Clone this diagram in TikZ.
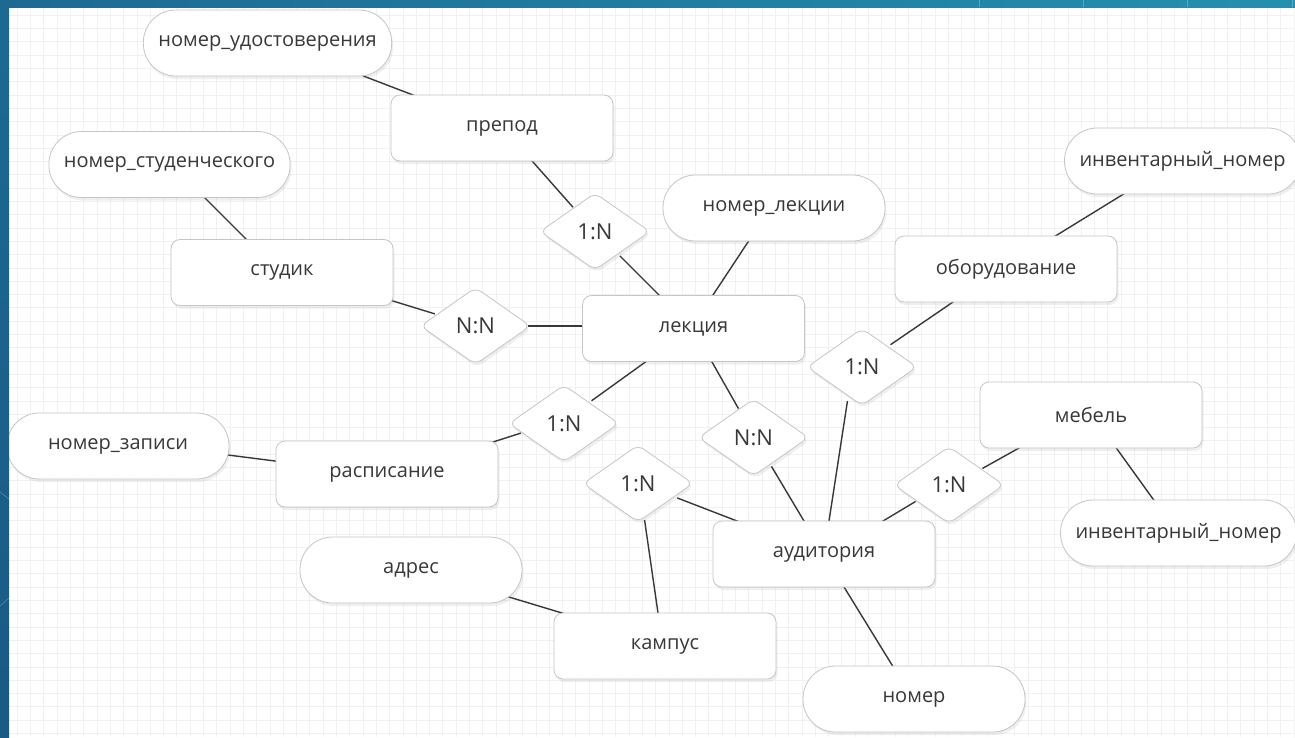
\documentclass[tikz,border=0pt]{standalone}
\usepackage{fontspec}
\setmainfont{Open Sans}
\usetikzlibrary{shapes.geometric}
\usetikzlibrary{shadows}

\definecolor{framedark}{HTML}{1A5A85}
\definecolor{frametop}{HTML}{1C6A92}
\definecolor{framelight}{HTML}{2390AE}
\definecolor{gridline}{HTML}{F1F1F1}
\definecolor{boxline}{HTML}{C6C6C6}
\definecolor{ink}{HTML}{383838}

\pgfdeclarelayer{grid}
\pgfdeclarelayer{edges}
\pgfsetlayers{grid,edges,main}

\tikzset{
  box/.style={draw=boxline, fill=white, line width=0.8pt, text=ink,
    font=\fontsize{20}{24}\selectfont,
    drop shadow={opacity=0.12, shadow xshift=1.5pt, shadow yshift=-3pt}},
  entity/.style={box, rectangle, rounded corners=9pt,
    minimum width=222pt, minimum height=66pt},
  attrib/.style={box, rectangle, rounded corners=32.5pt,
    minimum width=222pt, minimum height=66pt, inner xsep=15pt},
  relation/.style={box, diamond, rounded corners=7pt,
    minimum width=110pt, minimum height=77pt, inner sep=0pt,
    font=\fontsize{22}{26}\selectfont},
  link/.style={draw=ink, line width=1.4pt, shorten <=-3pt, shorten >=-3pt},
}

\begin{document}
\begin{tikzpicture}[x=1pt,y=-1pt]
    \useasboundingbox (0,0) rectangle (1295,737);

    % paper and grid
    \begin{pgfonlayer}{grid}
      \fill[white] (0,0) rectangle (1295,737);
      \foreach \gx in {4,17.3,...,1295}
        \draw[gridline, line width=1pt] (\gx,0) -- (\gx,737);
      \foreach \gy in {2,15.3,...,737}
        \draw[gridline, line width=1pt] (0,\gy) -- (1295,\gy);
    \end{pgfonlayer}

    % entities
    \node[entity] (prepod) at (502,128) {препод};
    \node[entity] (studik) at (282,272.5) {студик};
    \node[entity] (lekciya) at (693.5,328.5) {лекция};
    \node[entity] (oborud) at (1006,269) {оборудование};
    \node[entity] (mebel) at (1091,415) {мебель};
    \node[entity] (raspis) at (387,474) {расписание};
    \node[entity] (auditor) at (824,554) {аудитория};
    \node[entity] (kampus) at (665,646) {кампус};

    % attributes
    \node[attrib] (udost) at (267.5,43) {номер\_удостоверения};
    \node[attrib] (nstud) at (169.5,164.5) {номер\_студенческого};
    \node[attrib] (nlek) at (774,208) {номер\_лекции};
    \node[attrib] (invtop) at (1182.5,161) {инвентарный\_номер};
    \node[attrib] (nzap) at (118,446) {номер\_записи};
    \node[attrib] (invbot) at (1178.5,533) {инвентарный\_номер};
    \node[attrib] (adres) at (411,570) {адрес};
    \node[attrib] (nomer) at (914,699) {номер};

    % relationships
    \node[relation] (prepLek) at (595,231.5) {1:N};
    \node[relation] (studLek) at (475.5,326) {N:N};
    \node[relation] (oborAud) at (862,367) {1:N};
    \node[relation] (lekRasp) at (564,423.5) {1:N};
    \node[relation] (lekAud) at (753.5,437.5) {N:N};
    \node[relation] (kampAud) at (638,483.5) {1:N};
    \node[relation] (mebAud) at (949,485) {1:N};

    \begin{pgfonlayer}{edges}
      \draw[link] ([shift={(98.5,34)}]udost.center) -- ([shift={(-89,-33)}]prepod.center);
      \draw[link] ([shift={(31,34)}]prepod.center) -- ([shift={(-24,-26.5)}]prepLek.center);
      \draw[link] ([shift={(27,26.5)}]prepLek.center) -- ([shift={(-34.5,-33.5)}]lekciya.center);
      \draw[link] ([shift={(35.5,33.5)}]nstud.center) -- ([shift={(-35,-32.5)}]studik.center);
      \draw[link] ([shift={(111,28.5)}]studik.center) -- ([shift={(-43.5,-13)}]studLek.center);
      \draw[link] ([shift={(55.5,0)}]studLek.center) -- ([shift={(-111.5,-2.5)}]lekciya.center);
      \draw[link] ([shift={(-26,34)}]nlek.center) -- ([shift={(19.5,-33.5)}]lekciya.center);
      \draw[link] ([shift={(-60.5,34)}]invtop.center) -- ([shift={(51,-34)}]oborud.center);
      \draw[link] ([shift={(-53,33)}]oborud.center) -- ([shift={(31,-24)}]oborAud.center);
      \draw[link] ([shift={(-15,37)}]oborAud.center) -- ([shift={(5,-33)}]auditor.center);
      \draw[link] ([shift={(-49.5,34.5)}]lekciya.center) -- ([shift={(30,-24.5)}]lekRasp.center);
      \draw[link] ([shift={(-46,10.5)}]lekRasp.center) -- ([shift={(106,-32)}]raspis.center);
      \draw[link] ([shift={(110,9)}]nzap.center) -- ([shift={(-112,-13)}]raspis.center);
      \draw[link] ([shift={(18.5,33.5)}]lekciya.center) -- ([shift={(-16.5,-31.5)}]lekAud.center);
      \draw[link] ([shift={(19.5,31.5)}]lekAud.center) -- ([shift={(-20,-33)}]auditor.center);
      \draw[link] ([shift={(-72,33)}]mebel.center) -- ([shift={(36,-18)}]mebAud.center);
      \draw[link] ([shift={(-36,18)}]mebAud.center) -- ([shift={(59,-33)}]auditor.center);
      \draw[link] ([shift={(26,34)}]mebel.center) -- ([shift={(-25.5,-34)}]invbot.center);
      \draw[link] ([shift={(42,15.5)}]kampAud.center) -- ([shift={(-87,-33)}]auditor.center);
      \draw[link] ([shift={(7,39.5)}]kampAud.center) -- ([shift={(-7,-33)}]kampus.center);
      \draw[link] ([shift={(98,27)}]adres.center) -- ([shift={(-103,-33)}]kampus.center);
      \draw[link] ([shift={(20,33)}]auditor.center) -- ([shift={(-22,-34)}]nomer.center);
    \end{pgfonlayer}

    % slide frame
    \shade[left color=frametop, right color=framelight] (0,0) rectangle (1295,7);
    \shade[top color=frametop, bottom color=framedark] (0,0) rectangle (9,737);
    \foreach \sx in {979,1083,1187,1292}
      \draw[white, opacity=0.25, line width=0.6pt] (\sx,0) -- (\sx,7);
    \draw[white, opacity=0.3, line width=0.5pt] (0,492) -- (9,499);
    \draw[white, opacity=0.3, line width=0.5pt] (0,606) -- (9,598);
  \end{tikzpicture}
\end{document}
